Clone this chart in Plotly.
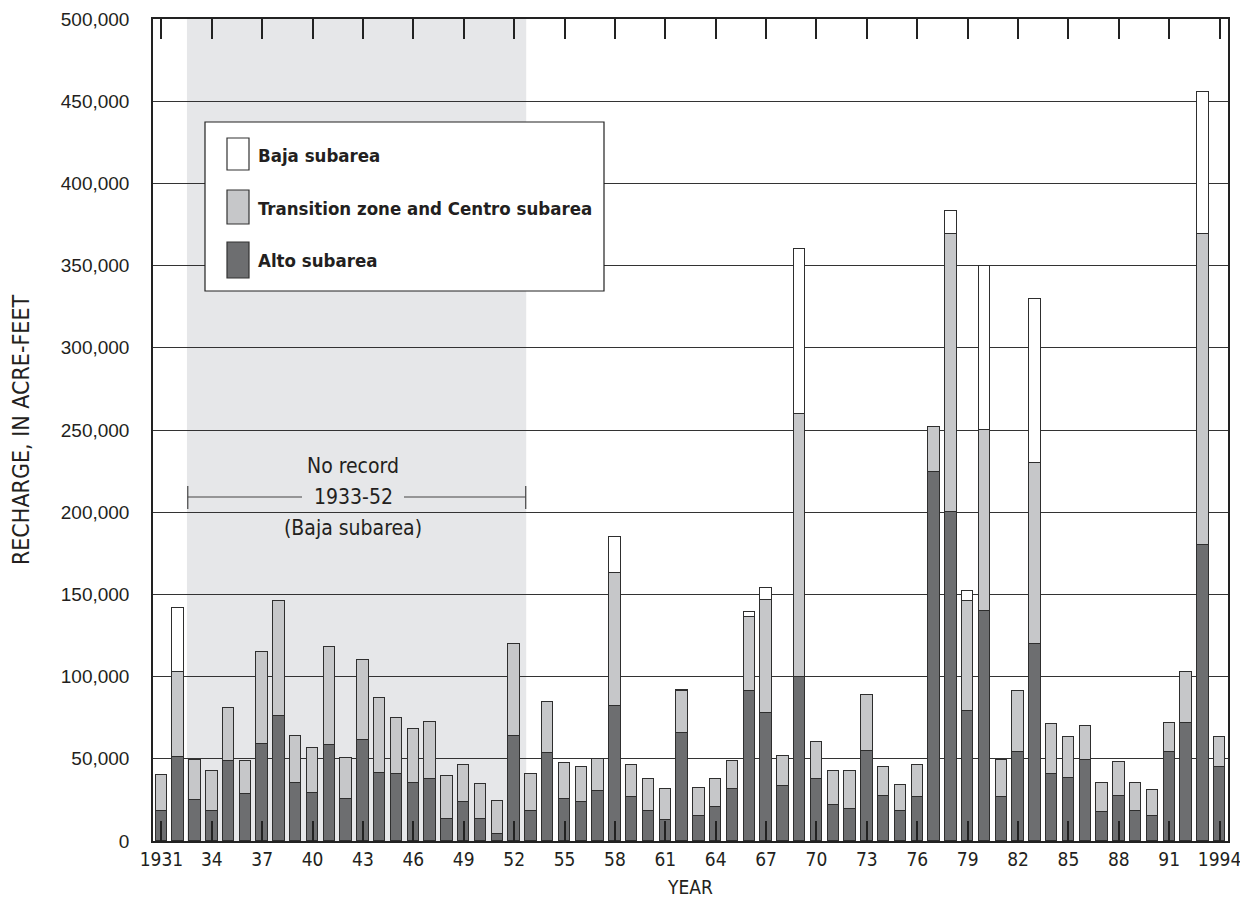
import plotly.graph_objects as go

years = list(range(1931, 1995))
alto = [18000, 51000, 25000, 18000, 48500, 28500, 59000, 76000, 35500, 29000,
        58500, 25500, 61500, 41500, 40500, 35500, 37500, 13500, 23500, 13500,
        4000, 64000, 18000, 53500, 25500, 23500, 30500, 82000, 26500, 18500,
        12500, 65500, 15500, 20500, 31500, 91500, 78000, 33500, 100000, 37500,
        22000, 19500, 55000, 27500, 18500, 26500, 224500, 200000, 79000, 140000,
        26500, 54000, 120000, 41000, 38500, 49500, 17500, 27500, 18500, 15000,
        54000, 72000, 180000, 45000]
transition = [22000, 52000, 24500, 24500, 32500, 20000, 56000, 70000, 28500, 27500,
              59500, 25000, 48500, 45500, 34500, 32500, 35000, 26000, 23000, 21000,
              20500, 56000, 22500, 31000, 22000, 21500, 19500, 81000, 20000, 19000,
              19000, 25500, 17000, 17000, 17000, 45000, 68500, 18000, 160000, 23000,
              20500, 23000, 34000, 17500, 15500, 19500, 27500, 169500, 67000, 110000,
              22500, 37000, 110000, 30000, 24500, 20500, 17500, 20500, 16500, 16000,
              18000, 31000, 189500, 18000]
baja = [0, 39000, 0, 0, 0, 0, 0, 0, 0, 0,
        0, 0, 0, 0, 0, 0, 0, 0, 0, 0,
        0, 0, 0, 0, 0, 0, 0, 22000, 0, 0,
        0, 1000, 0, 0, 0, 3000, 7500, 0, 100000, 0,
        0, 0, 0, 0, 0, 0, 0, 14000, 6000, 99500,
        0, 0, 99500, 0, 0, 0, 0, 0, 0, 0,
        0, 0, 86000, 0]

tick_years = list(range(1931, 1995, 3))
tick_text = ["1931"] + [str(y)[2:] for y in tick_years[1:-1]] + ["1994"]
y_ticks = list(range(0, 500001, 50000))
y_text = [f"{v:,}" for v in y_ticks]

# page offset of 8px (default body margin) is compensated in the figure size
OFF = 8
W, H = 1248 - OFF, 907 - OFF
L, T = 153 - OFF, 19 - OFF
PW, PH = 1075, 822
R, B = W - L - PW, H - T - PH

def px(x):
    return (x - 153) / PW

def py(y):
    return (841 - y) / PH

COND = "DejaVu Sans Condensed, Liberation Sans Narrow, sans-serif"
NARROW_B = "Liberation Sans Narrow, DejaVu Sans Condensed, sans-serif"
TXT = "#231f20"
OUT = "#2e2e2e"

fig = go.Figure()
fig.add_bar(x=years, y=alto, name="Alto subarea", width=0.68,
            marker=dict(color="#6d6e70", line=dict(color=OUT, width=1.2)))
fig.add_bar(x=years, y=transition, name="Transition zone and Centro subarea", width=0.68,
            marker=dict(color="#c6c7c9", line=dict(color=OUT, width=1.2)))
fig.add_bar(x=years, y=baja, name="Baja subarea", width=0.68,
            marker=dict(color="#ffffff", line=dict(color=OUT, width=1.2)))

shapes = []
shapes.append(dict(type="rect", xref="x", yref="paper", x0=1932.52, x1=1952.72, y0=0, y1=1,
                   fillcolor="#e6e7e9", line=dict(width=0), layer="below"))
by = py(497)
for xa, xb in [(1932.57, 1939.37), (1945.44, 1952.69)]:
    shapes.append(dict(type="line", xref="x", yref="paper", x0=xa, x1=xb, y0=by, y1=by,
                       line=dict(color="#444", width=1.2)))
for xe in [1932.57, 1952.69]:
    shapes.append(dict(type="line", xref="x", yref="paper", x0=xe, x1=xe, y0=py(486), y1=py(509),
                       line=dict(color="#444", width=1.2)))
shapes.append(dict(type="rect", xref="paper", yref="paper", x0=px(205), x1=px(604), y0=py(291), y1=py(122),
                   fillcolor="white", line=dict(color="#222", width=1.2), layer="above"))
sw = [("#ffffff", 138, 170), ("#c6c7c9", 190, 224), ("#6d6e70", 242, 278)]
for col, y0, y1 in sw:
    shapes.append(dict(type="rect", xref="paper", yref="paper", x0=px(227), x1=px(249), y0=py(y1), y1=py(y0),
                       fillcolor=col, line=dict(color="#333", width=1.2), layer="above"))

annotations = []
leg_txt = [("Baja subarea", 155), ("Transition zone and Centro subarea", 208), ("Alto subarea", 261)]
for t, yc in leg_txt:
    annotations.append(dict(text=f"<b>{t}</b>", xref="paper", yref="paper", x=px(256), y=py(yc),
                            xanchor="left", yanchor="middle", showarrow=False,
                            font=dict(family=NARROW_B, size=18.5, color=TXT)))
for t, yc in [("No record", 466), ("1933-52", 497), ("(Baja subarea)", 528)]:
    annotations.append(dict(text=t, xref="x", yref="paper", x=1942.42, y=py(yc),
                            xanchor="center", yanchor="middle", showarrow=False,
                            font=dict(family=COND, size=21, color=TXT)))

fig.update_layout(
    width=W, height=H, barmode="stack", bargap=0,
    margin=dict(l=L, r=R, t=T, b=B, pad=0, autoexpand=False),
    plot_bgcolor="white", paper_bgcolor="white",
    showlegend=False, shapes=shapes, annotations=annotations,
    font=dict(family=COND, color=TXT),
)
fig.update_xaxes(range=[1930.5, 1994.5], tickvals=tick_years, ticktext=tick_text,
                 ticks="inside", ticklen=20, tickwidth=1.5, tickcolor="#222",
                 showline=True, linecolor="#222", linewidth=1.5, mirror="ticks",
                 showgrid=False, zeroline=False, automargin=False,
                 tickfont=dict(family=COND, size=19, color=TXT),
                 title=dict(text="YEAR", font=dict(family=COND, size=19, color=TXT), standoff=12))
fig.update_yaxes(range=[0, 500000], tickvals=y_ticks, ticktext=y_text,
                 ticks="outside", ticklen=18, tickcolor="rgba(0,0,0,0)",
                 showline=True, linecolor="#222", linewidth=1.5, mirror=True,
                 showgrid=True, gridcolor="#333", gridwidth=1.1, zeroline=False, automargin=False,
                 tickfont=dict(family="Liberation Sans, Arial, sans-serif", size=19, color=TXT),
                 title=dict(text="RECHARGE, IN ACRE-FEET", font=dict(family=COND, size=23, color=TXT), standoff=25))

fig.write_html("out.html")
